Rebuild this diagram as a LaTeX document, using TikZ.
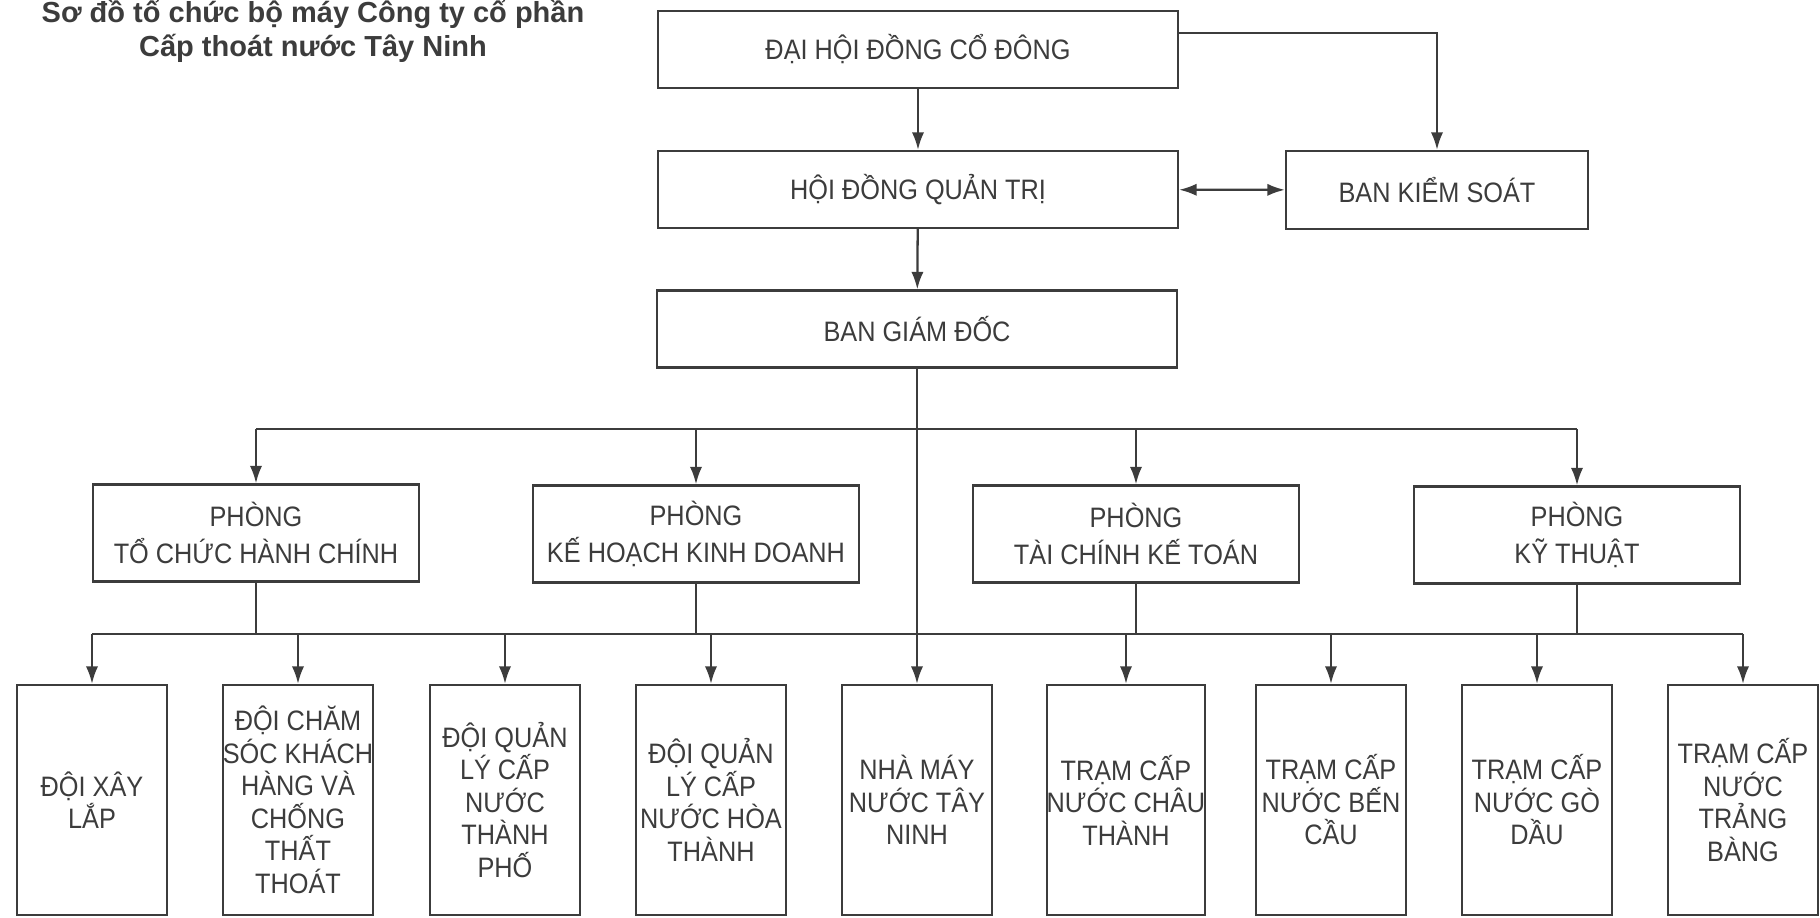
\documentclass[tikz,border=0pt]{standalone}
\usepackage{fontspec}
\setmainfont{Liberation Sans}
\newfontfamily\boxfont[FakeStretch=0.9]{Liberation Sans}
\usetikzlibrary{positioning,arrows.meta}
\definecolor{ink}{RGB}{60,60,60}

\begin{document}
\begin{tikzpicture}[
    x=0.02cm, y=-0.02cm,
    box/.style={draw=ink, line width=1.3pt, rectangle, text=ink, align=center, inner sep=0pt, font=\boxfont\fontsize{16}{18.5}\selectfont},
    wide/.style={box, minimum width=10.4cm, minimum height=1.54cm},
    dept/.style={box, minimum width=6.52cm, minimum height=1.94cm, font=\boxfont\fontsize{16}{21}\selectfont},
    unit/.style={box, minimum width=3cm, minimum height=4.6cm},
    link/.style={draw=ink, line width=1.3pt},
    arr/.style={link, -{Latex[length=10pt,width=7pt]}},
    twoway/.style={link, {Latex[length=10pt,width=7pt]}-{Latex[length=10pt,width=7pt]}}
]
\useasboundingbox (0,0) rectangle (1820,917);

% Title
\node[font=\bfseries\fontsize{16.5}{19.5}\selectfont, text=ink, align=center] (title) at (313,31) {Sơ đồ tổ chức bộ máy Công ty cổ phần\\Cấp thoát nước Tây Ninh};

% Board
\node[wide] (dhdcd) at (918,49.5) {ĐẠI HỘI ĐỒNG CỔ ĐÔNG};
\node[wide] (hdqt) at (918,189.5) {HỘI ĐỒNG QUẢN TRỊ};
\node[box, minimum width=6.04cm, minimum height=1.56cm] (bks) at (1437,190) {BAN KIỂM SOÁT};
\node[wide] (bgd) at (917,329) {BAN GIÁM ĐỐC};

% Departments
\node[dept] (tchc) at (256,533) {PHÒNG\\TỔ CHỨC HÀNH CHÍNH};
\node[dept] (khkd) at (696,534) {PHÒNG\\KẾ HOẠCH KINH DOANH};
\node[dept] (tckt) at (1136,534) {PHÒNG\\TÀI CHÍNH KẾ TOÁN};
\node[dept] (kt) at (1577,535) {PHÒNG\\KỸ THUẬT};

% Units
\node[unit] (xl) at (92,800) {ĐỘI XÂY\\LẮP};
\node[unit] (cskh) at (298,800) {ĐỘI CHĂM\\SÓC KHÁCH\\HÀNG VÀ\\CHỐNG\\THẤT\\THOÁT};
\node[unit] (qltp) at (505,800) {ĐỘI QUẢN\\LÝ CẤP\\NƯỚC\\THÀNH\\PHỐ};
\node[unit] (qlht) at (711,800) {ĐỘI QUẢN\\LÝ CẤP\\NƯỚC HÒA\\THÀNH};
\node[unit] (nm) at (917,800) {NHÀ MÁY\\NƯỚC TÂY\\NINH};
\node[unit] (ct) at (1126,800) {TRẠM CẤP\\NƯỚC CHÂU\\THÀNH};
\node[unit] (bc) at (1331,800) {TRẠM CẤP\\NƯỚC BẾN\\CẦU};
\node[unit] (gd) at (1537,800) {TRẠM CẤP\\NƯỚC GÒ\\DẦU};
\node[unit] (tb) at (1743,800) {TRẠM CẤP\\NƯỚC\\TRẢNG\\BÀNG};

% Board links
\draw[arr] (dhdcd) -- (hdqt);
\draw[arr] ([yshift=0.33cm]dhdcd.east) -| (bks);
\draw[twoway] (hdqt) -- (bks);
\draw[arr] (hdqt) -- (bgd);
\draw[arr] (bgd) -- (nm);

% Bus to departments
\coordinate (bus1) at (917,429);
\draw[link] (tchc |- bus1) -- (kt |- bus1);
\foreach \d in {tchc,khkd,tckt,kt} \draw[arr] (\d |- bus1) -- (\d);

% Bus to units
\coordinate (bus2) at (917,634);
\draw[link] (xl |- bus2) -- (tb |- bus2);
\foreach \d in {tchc,khkd,tckt,kt} \draw[link] (\d) -- (\d |- bus2);
\foreach \u in {xl,cskh,qltp,qlht,ct,bc,gd,tb} \draw[arr] (\u |- bus2) -- (\u);

\end{tikzpicture}
\end{document}
